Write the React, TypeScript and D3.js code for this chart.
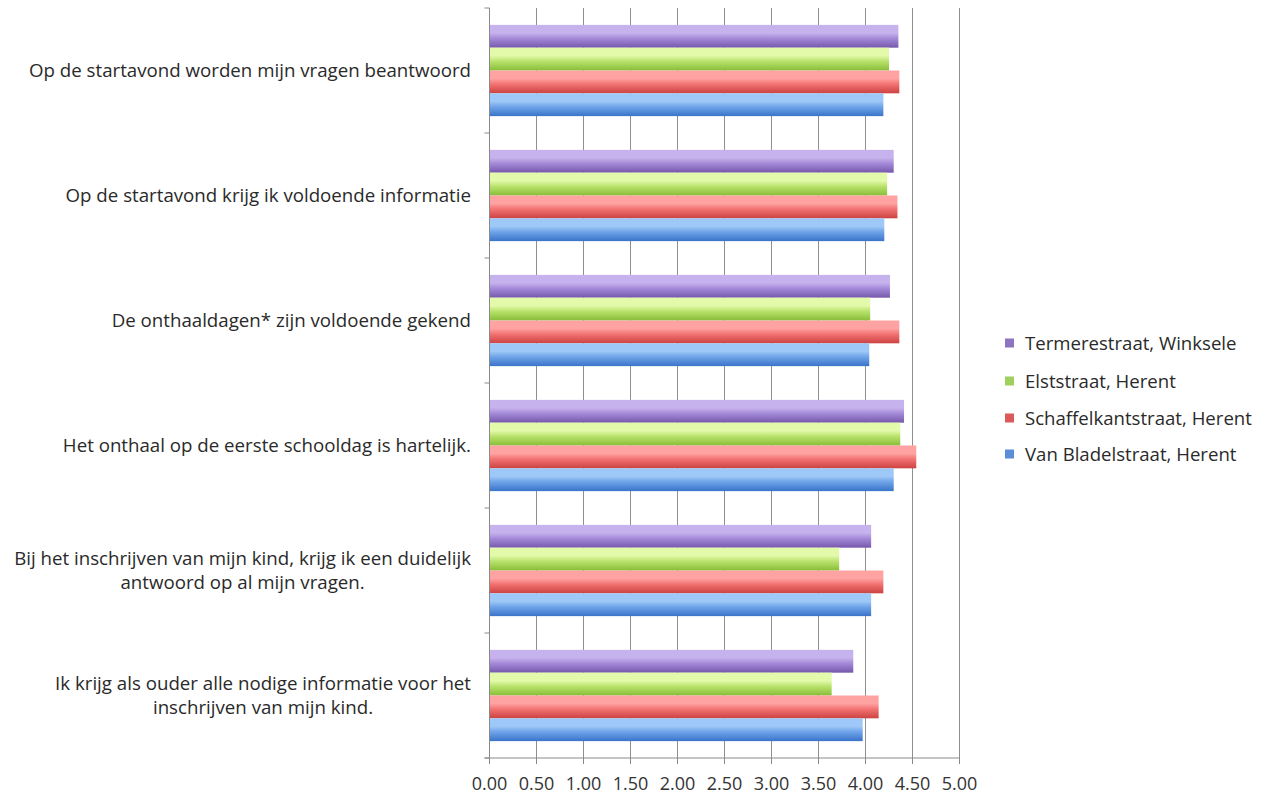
import React, { useEffect, useRef } from "react";
import * as d3 from "d3";

const categories: string[][] = [
  ["Op de startavond worden mijn vragen beantwoord"],
  ["Op de startavond krijg ik voldoende informatie"],
  ["De onthaaldagen* zijn voldoende gekend"],
  ["Het onthaal op de eerste schooldag is hartelijk."],
  ["Bij het inschrijven van mijn kind, krijg ik een duidelijk", "antwoord op al mijn vragen."],
  ["Ik krijg als ouder alle nodige informatie voor het", "inschrijven van mijn kind."],
];

const seriesNames = [
  "Termerestraat, Winksele",
  "Elststraat, Herent",
  "Schaffelkantstraat, Herent",
  "Van Bladelstraat, Herent",
];

const termerestraat = [4.35, 4.30, 4.26, 4.41, 4.06, 3.87];
const elststraat = [4.25, 4.23, 4.05, 4.37, 3.72, 3.64];
const schaffelkantstraat = [4.36, 4.34, 4.36, 4.54, 4.19, 4.14];
const vanBladelstraat = [4.19, 4.20, 4.04, 4.30, 4.06, 3.97];

const seriesValues = [termerestraat, elststraat, schaffelkantstraat, vanBladelstraat];

const xTicks = [0, 0.5, 1, 1.5, 2, 2.5, 3, 3.5, 4, 4.5, 5];

const gradients = [
  ["#c6b2ec", "#a489d8", "#7658ab"],
  ["#e2faaa", "#b9e26c", "#88bd38"],
  ["#ffa2a2", "#f27272", "#cc4242"],
  ["#9ec8f7", "#6ea3e9", "#3a74c9"],
];
const legendColors = ["#8d74bf", "#9fcf5c", "#dc5a5a", "#5a8fd8"];

const W = 1272;
const H = 795;
const margin = { left: 489.5, right: 1272 - 959.5, top: 8, bottom: 795 - 758 };
const FONT = "'Open Sans', sans-serif";

export default function App() {
  const ref = useRef<SVGSVGElement | null>(null);

  useEffect(() => {
    const svg = d3.select(ref.current);
    svg.selectAll("*").remove();

    const x = d3.scaleLinear().domain([0, 5]).range([margin.left, W - margin.right]);
    const y = d3
      .scaleBand<number>()
      .domain(categories.map((_, i) => i))
      .range([margin.top, H - margin.bottom])
      .paddingInner(0)
      .paddingOuter(0);
    const bandInner = 0.135;
    const sub = d3
      .scaleBand<number>()
      .domain(seriesNames.map((_, i) => i))
      .range([y.bandwidth() * bandInner, y.bandwidth() * (1 - bandInner)]);

    const defs = svg.append("defs");
    gradients.forEach((g, i) => {
      const lg = defs
        .append("linearGradient")
        .attr("id", `grad${i}`)
        .attr("x1", 0)
        .attr("y1", 0)
        .attr("x2", 0)
        .attr("y2", 1);
      lg.append("stop").attr("offset", "0%").attr("stop-color", g[0]);
      lg.append("stop").attr("offset", "35%").attr("stop-color", g[0]);
      lg.append("stop").attr("offset", "60%").attr("stop-color", g[1]);
      lg.append("stop").attr("offset", "100%").attr("stop-color", g[2]);
    });

    // gridlines
    svg
      .append("g")
      .selectAll("line")
      .data(xTicks.slice(1))
      .join("line")
      .attr("x1", (d) => x(d))
      .attr("x2", (d) => x(d))
      .attr("y1", margin.top)
      .attr("y2", H - margin.bottom)
      .attr("stroke", "#8f8f8f")
      .attr("stroke-width", 1);

    // bars
    const groups = svg
      .append("g")
      .selectAll("g")
      .data(categories.map((_, i) => i))
      .join("g")
      .attr("transform", (i) => `translate(0,${y(i)})`);
    groups
      .selectAll("rect")
      .data((ci) => seriesValues.map((vals, si) => ({ si, v: vals[ci] })))
      .join("rect")
      .attr("x", x(0))
      .attr("y", (d) => sub(d.si)!)
      .attr("width", (d) => x(d.v) - x(0))
      .attr("height", sub.bandwidth())
      .attr("fill", (d) => `url(#grad${d.si})`);

    // left axis
    const yTicks = d3.range(categories.length + 1).map((i) => margin.top + i * y.bandwidth());
    svg
      .append("line")
      .attr("x1", x(0))
      .attr("x2", x(0))
      .attr("y1", margin.top)
      .attr("y2", H - margin.bottom)
      .attr("stroke", "#8a8a8a");
    svg
      .append("g")
      .selectAll("line")
      .data(yTicks)
      .join("line")
      .attr("x1", x(0) - 5)
      .attr("x2", x(0))
      .attr("y1", (d) => d)
      .attr("y2", (d) => d)
      .attr("stroke", "#8a8a8a");

    // bottom axis
    svg
      .append("line")
      .attr("x1", x(0) - 5)
      .attr("x2", x(5))
      .attr("y1", H - margin.bottom)
      .attr("y2", H - margin.bottom)
      .attr("stroke", "#8a8a8a");
    svg
      .append("g")
      .selectAll("line")
      .data(xTicks)
      .join("line")
      .attr("x1", (d) => x(d))
      .attr("x2", (d) => x(d))
      .attr("y1", H - margin.bottom)
      .attr("y2", H - margin.bottom + 6)
      .attr("stroke", "#8a8a8a");
    svg
      .append("g")
      .selectAll("text")
      .data(xTicks)
      .join("text")
      .attr("x", (d) => x(d))
      .attr("y", 790)
      .attr("text-anchor", "middle")
      .attr("font-family", FONT)
      .attr("font-size", 18)
      .attr("fill", "#333")
      .text((d) => d3.format(".2f")(d));

    // category labels
    const labelRight = 471;
    const lineH = 24;
    categories.forEach((lines, i) => {
      const cy = (y(i) as number) + y.bandwidth() / 2;
      const g = svg.append("g");
      const texts = lines.map((l, li) =>
        g
          .append("text")
          .attr("y", cy + (li - (lines.length - 1) / 2) * lineH)
          .attr("dy", "0.35em")
          .attr("font-family", FONT)
          .attr("font-size", 18.7)
          .attr("fill", "#2a2a2a")
          .text(l)
      );
      const widths = texts.map((t) => (t.node() as SVGTextElement).getComputedTextLength());
      const maxW = Math.max(...widths);
      const center = labelRight - maxW / 2;
      texts.forEach((t) => t.attr("x", center).attr("text-anchor", "middle"));
    });

    // legend
    const legend = svg.append("g");
    const legY = [343, 381, 418, 454];
    seriesNames.forEach((name, i) => {
      legend
        .append("rect")
        .attr("x", 1005)
        .attr("y", legY[i] - 4.5)
        .attr("width", 9)
        .attr("height", 9)
        .attr("fill", legendColors[i]);
      legend
        .append("text")
        .attr("x", 1025)
        .attr("y", legY[i])
        .attr("dy", "0.35em")
        .attr("font-family", FONT)
        .attr("font-size", 18.6)
        .attr("fill", "#2a2a2a")
        .text(name);
    });
  }, []);

  return (
    <div style={{ position: "absolute", left: 0, top: 0 }}>
      <svg ref={ref} width={W} height={H} style={{ display: "block", background: "#fff" }} />
    </div>
  );
}
